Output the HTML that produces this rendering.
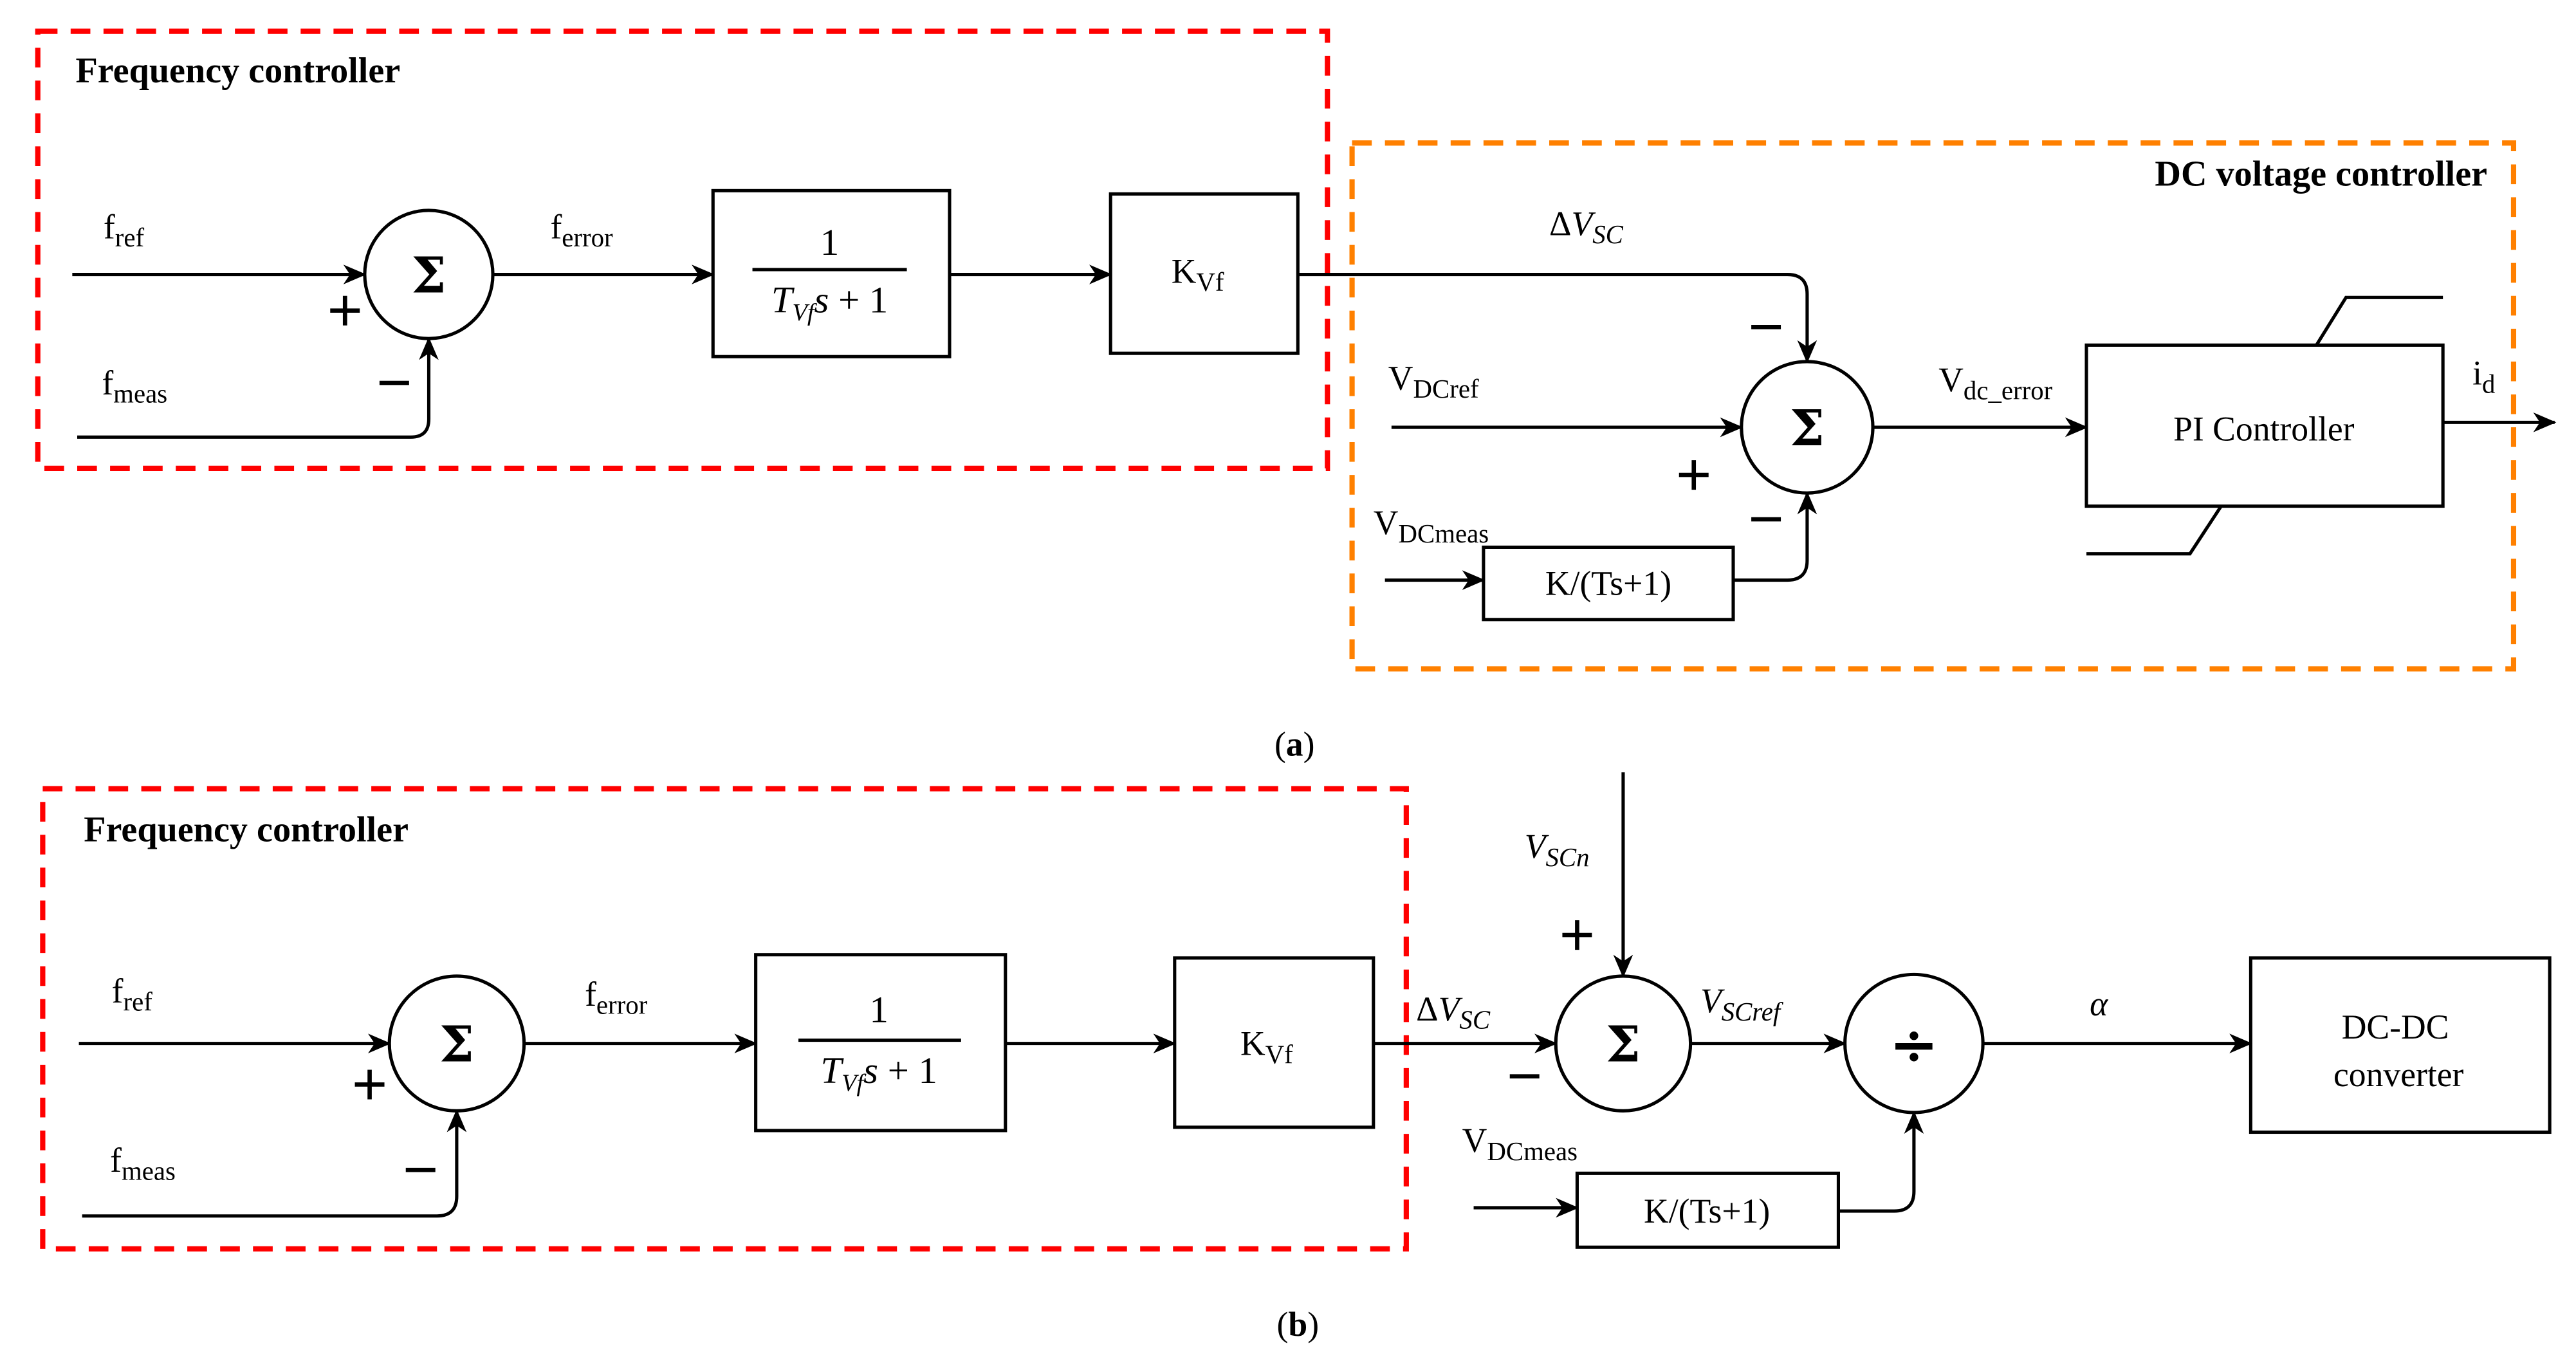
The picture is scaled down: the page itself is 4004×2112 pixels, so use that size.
<!DOCTYPE html>
<html><head><meta charset="utf-8"><style>
html,body{margin:0;padding:0;background:#fff}
svg{display:block}
text{font-family:"Liberation Serif","Times New Roman",serif;fill:#000}
.sym{font-family:"DejaVu Serif","Liberation Serif",serif}
</style></head><body>
<svg width="4004" height="2112" viewBox="0 0 1568 827" xmlns="http://www.w3.org/2000/svg">
<defs>
<marker id="ar" markerWidth="14" markerHeight="12" refX="13" refY="6" orient="auto" markerUnits="userSpaceOnUse">
<path d="M0,0 L14,6 L0,12 L4,6 z" fill="#000"/>
</marker>
</defs>
<rect width="1568" height="827" fill="#fff"/>
<g fill="none" stroke-width="3.2">
<rect x="23" y="19" width="785" height="266" stroke="#f00" stroke-dasharray="12,8"/>
<rect x="823" y="87" width="707" height="320" stroke="#ff8000" stroke-dasharray="12,8"/>
<rect x="26" y="480" width="830" height="280" stroke="#f00" stroke-dasharray="12,8"/>
</g>
<g fill="none" stroke="#000" stroke-width="2">
<line x1="44" y1="167" x2="222" y2="167" marker-end="url(#ar)"/>
<circle cx="261" cy="167" r="39"/>
<path d="M47,266 H250 Q261,266 261,255 V206" marker-end="url(#ar)"/>
<line x1="300" y1="167" x2="434" y2="167" marker-end="url(#ar)"/>
<rect x="434" y="116" width="144" height="101"/>
<line x1="578" y1="167" x2="676" y2="167" marker-end="url(#ar)"/>
<rect x="676" y="118" width="114" height="97"/>
<path d="M790,167 H1088 Q1100,167 1100,179 V220" marker-end="url(#ar)"/>
<circle cx="1100" cy="260" r="40"/>
<line x1="847" y1="260" x2="1060" y2="260" marker-end="url(#ar)"/>
<line x1="843" y1="353" x2="903" y2="353" marker-end="url(#ar)"/>
<rect x="903" y="333" width="152" height="44"/>
<path d="M1055,353 H1088 Q1100,353 1100,341 V300" marker-end="url(#ar)"/>
<line x1="1140" y1="260" x2="1270" y2="260" marker-end="url(#ar)"/>
<rect x="1270" y="210" width="217" height="98"/>
<path d="M1410,210 L1428,181 H1487"/>
<path d="M1352,308 L1333,337 H1270"/>
<line x1="1487" y1="257" x2="1555" y2="257" marker-end="url(#ar)"/>
<line x1="48" y1="635" x2="237" y2="635" marker-end="url(#ar)"/>
<circle cx="278" cy="635" r="41"/>
<path d="M50,740 H266 Q278,740 278,728 V676" marker-end="url(#ar)"/>
<line x1="319" y1="635" x2="460" y2="635" marker-end="url(#ar)"/>
<rect x="460" y="581" width="152" height="107"/>
<line x1="612" y1="635" x2="715" y2="635" marker-end="url(#ar)"/>
<rect x="715" y="583" width="121" height="103"/>
<line x1="836" y1="635" x2="947" y2="635" marker-end="url(#ar)"/>
<circle cx="988" cy="635" r="41"/>
<line x1="988" y1="470" x2="988" y2="594" marker-end="url(#ar)"/>
<line x1="1029" y1="635" x2="1123" y2="635" marker-end="url(#ar)"/>
<circle cx="1165" cy="635" r="42"/>
<line x1="897" y1="735" x2="960" y2="735" marker-end="url(#ar)"/>
<rect x="960" y="714" width="159" height="45"/>
<path d="M1119,737 H1153 Q1165,737 1165,725 V677" marker-end="url(#ar)"/>
<line x1="1207" y1="635" x2="1370" y2="635" marker-end="url(#ar)"/>
<rect x="1370" y="583" width="182" height="106"/>
<line x1="458" y1="164" x2="552" y2="164"/>
<line x1="486" y1="633" x2="585" y2="633"/>
</g>
<!-- plus / minus signs -->
<g stroke="#000" stroke-width="2.6" fill="none">
<path d="M201,189 H219 M210,180 V198"/>
<path d="M231,233 H249"/>
<path d="M1066,199 H1084"/>
<path d="M1022,289 H1040 M1031,280 V298"/>
<path d="M1066,316 H1084"/>
<path d="M216,660 H234 M225,651 V669"/>
<path d="M247,712 H265"/>
<path d="M919,655 H937"/>
<path d="M951,569 H969 M960,560 V578"/>
</g>
<g font-size="21">
<text x="46" y="50" font-weight="bold" font-size="22">Frequency controller</text>
<text x="51" y="512" font-weight="bold" font-size="22">Frequency controller</text>
<text x="1514" y="113" font-weight="bold" font-size="22" text-anchor="end">DC voltage controller</text>
<text x="63" y="145">f<tspan font-size="16" dy="5">ref</tspan></text>
<text x="62" y="240">f<tspan font-size="16" dy="5">meas</tspan></text>
<text x="335" y="145">f<tspan font-size="16" dy="5">error</tspan></text>
<text x="505" y="155" text-anchor="middle" font-size="23">1</text>
<text x="505" y="190" text-anchor="middle" font-size="23"><tspan font-style="italic">T</tspan><tspan font-style="italic" font-size="15" dy="5">Vf</tspan><tspan font-style="italic" dy="-5">s</tspan> + 1</text>
<text x="713" y="172">K<tspan font-size="16" dy="5">Vf</tspan></text>
<text x="943" y="143">Δ<tspan font-style="italic">V</tspan><tspan font-style="italic" font-size="16" dy="5">SC</tspan></text>
<text x="845" y="237">V<tspan font-size="16" dy="5">DCref</tspan></text>
<text x="836" y="325">V<tspan font-size="16" dy="5">DCmeas</tspan></text>
<text x="979" y="362" text-anchor="middle">K/(Ts+1)</text>
<text x="1180" y="238">V<tspan font-size="16" dy="5">dc_error</tspan></text>
<text x="1378" y="268" text-anchor="middle">PI Controller</text>
<text x="1505" y="234">i<tspan font-size="16" dy="5">d</tspan></text>
<text x="788" y="460" text-anchor="middle">(<tspan font-weight="bold">a</tspan>)</text>
<text x="68" y="610">f<tspan font-size="16" dy="5">ref</tspan></text>
<text x="67" y="713">f<tspan font-size="16" dy="5">meas</tspan></text>
<text x="356" y="612">f<tspan font-size="16" dy="5">error</tspan></text>
<text x="535" y="622" text-anchor="middle" font-size="23">1</text>
<text x="535" y="659" text-anchor="middle" font-size="23"><tspan font-style="italic">T</tspan><tspan font-style="italic" font-size="15" dy="5">Vf</tspan><tspan font-style="italic" dy="-5">s</tspan> + 1</text>
<text x="755" y="642">K<tspan font-size="16" dy="5">Vf</tspan></text>
<text x="862" y="621">Δ<tspan font-style="italic">V</tspan><tspan font-style="italic" font-size="16" dy="5">SC</tspan></text>
<text x="928" y="522"><tspan font-style="italic">V</tspan><tspan font-style="italic" font-size="16" dy="5">SCn</tspan></text>
<text x="1035" y="616"><tspan font-style="italic">V</tspan><tspan font-style="italic" font-size="16" dy="5">SCref</tspan></text>
<text x="1272" y="618" font-style="italic">α</text>
<text x="890" y="701">V<tspan font-size="16" dy="5">DCmeas</tspan></text>
<text x="1039" y="744" text-anchor="middle">K/(Ts+1)</text>
<text x="1458" y="632" text-anchor="middle">DC-DC</text>
<text x="1460" y="661" text-anchor="middle">converter</text>
<text x="790" y="813" text-anchor="middle">(<tspan font-weight="bold">b</tspan>)</text>
</g>
<g font-weight="bold" text-anchor="middle">
<text class="sym" x="261" y="178" font-size="30">Σ</text>
<text class="sym" x="1100" y="271" font-size="30">Σ</text>
<text class="sym" x="278" y="646" font-size="30">Σ</text>
<text class="sym" x="988" y="646" font-size="30">Σ</text>
<text class="sym" x="1165" y="648" font-size="36">÷</text>
</g>
</svg>
</body></html>
